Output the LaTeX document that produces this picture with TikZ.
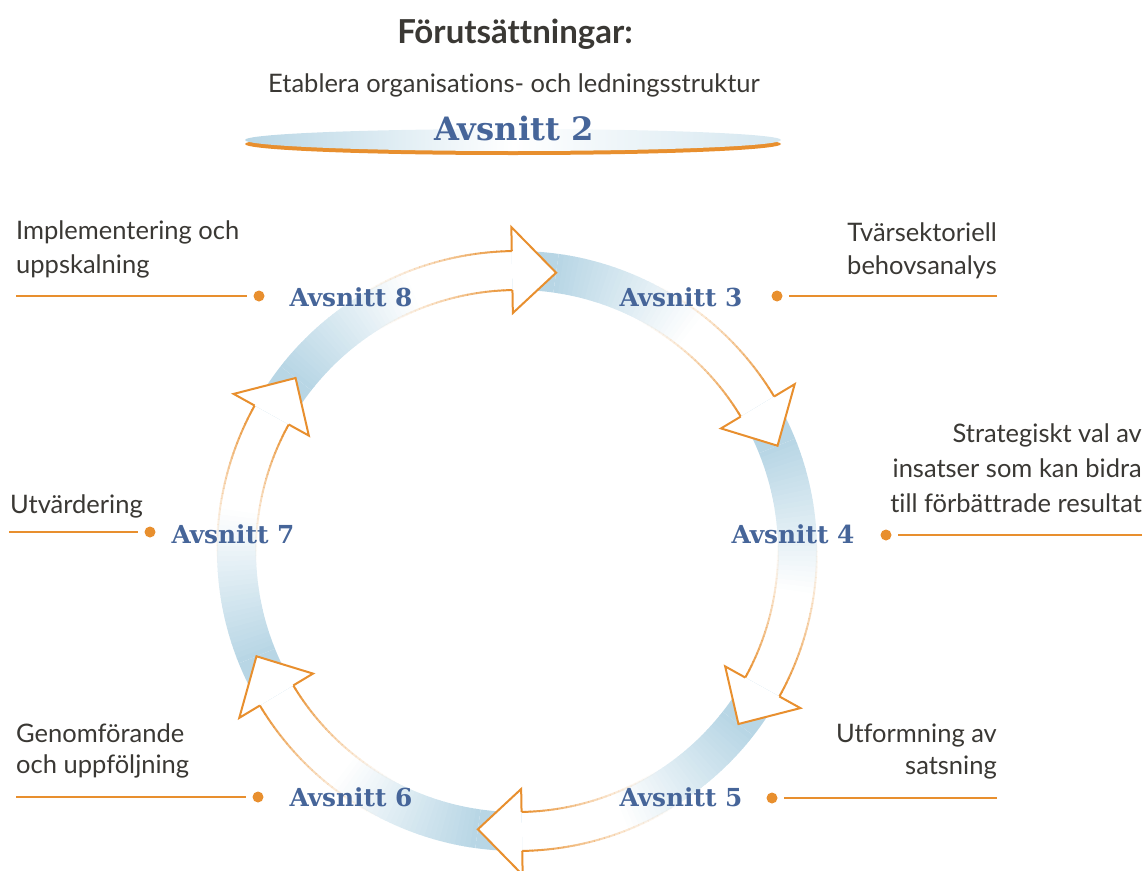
\documentclass[tikz,border=0pt]{standalone}
\usepackage{fontspec}
\setmainfont{Lato}[Ligatures={NoCommon}]
\newfontfamily\avsfont{DejaVu Serif}
\definecolor{ringblue}{RGB}{184,214,229}
\definecolor{arrorange}{RGB}{232,143,46}
\definecolor{avblue}{RGB}{70,101,153}
\definecolor{txtgray}{RGB}{58,56,52}
\begin{document}
\begin{tikzpicture}[x=1pt,y=1pt,yscale=-1,
  lbl/.style={font=\fontsize{25.5}{30}\selectfont, text=txtgray, inner sep=0pt},
  avs/.style={font=\avsfont\bfseries\fontsize{24.8}{28}\selectfont, text=avblue, inner sep=0pt, anchor=base},
  dotm/.style={circle, fill=arrorange, minimum size=11pt, inner sep=0pt},
  lead/.style={draw=arrorange, line width=1.3pt, shorten >=6pt}]
\useasboundingbox (0,0) rectangle (1148,870);

% ---------- top block ----------
\node[font=\bfseries\fontsize{33}{38}\selectfont, text=txtgray, anchor=base, inner sep=0pt] (title) at (515,43) {Förutsättningar:};
\node[font=\fontsize{25.5}{30}\selectfont, text=txtgray, anchor=base, inner sep=0pt] (sub) at (514,92) {Etablera organisations- och ledningsstruktur};
\fill[arrorange] (513,144) ellipse[x radius=268pt, y radius=11pt];
\shade[left color=ringblue, right color=ringblue!60, middle color=white] (513,140) ellipse[x radius=268pt, y radius=11pt];
\node[font=\avsfont\bfseries\fontsize{32.2}{36}\selectfont, text=avblue, anchor=base, inner sep=0pt] (a2) at (514,140) {Avsnitt 2};

% ---------- ring ----------
\begin{scope}[shift={(517,551)}, yscale=-1]
  \foreach \T in {82,22,-38,-98,-158,-218}{
    \pgfmathsetmacro\P{\T+60}
    \pgfmathsetmacro\Q{\T+69}
    \fill[ringblue] (\Q:261pt) arc[start angle=\Q, end angle=\P, radius=261pt] -- (\P:300pt) arc[start angle=\P, end angle=\Q, radius=300pt] -- cycle;
    \foreach \k in {0,...,29}{
      \pgfmathsetmacro\a{\P-\k}
      \pgfmathsetmacro\b{\P-\k-1.15}
      \pgfmathtruncatemacro\pc{100-\k*100/30}
      \fill[ringblue!\pc!white] (\a:261pt) arc[start angle=\a, end angle=\b, radius=261pt] -- (\b:300pt) arc[start angle=\b, end angle=\a, radius=300pt] -- cycle;
    }
  }
  \foreach \T in {82,22,-38,-98,-158,-218}{
    \pgfmathsetmacro\B{\T+9}
    \foreach \k in {0,...,31}{
      \pgfmathsetmacro\a{\T+41-\k}
      \pgfmathsetmacro\b{\T+41-\k-1.1}
      \pgfmathsetmacro\op{((\k+1)/32)^1.6}
      \draw[arrorange, draw opacity=\op, line width=2pt] (\a:300pt) arc[start angle=\a, end angle=\b, radius=300pt] (\a:261pt) arc[start angle=\a, end angle=\b, radius=261pt];
    }
    \filldraw[fill=white, draw=arrorange, line width=2pt, line join=miter] (\B:300pt) -- (\B:324pt) -- (\T:281pt) -- (\B:238pt) -- (\B:261pt);
  }
\end{scope}

% ---------- Avsnitt 8 ----------
\node[lbl, anchor=base west] (imp1) at (16,239) {Implementering och};
\node[lbl, anchor=base west] (imp2) at (16,273) {uppskalning};
\node[dotm] (d8) at (259,296) {};
\coordinate (e8) at (16,296);
\draw[lead] (e8) -- (d8);
\node[avs] (a8) at (351,306) {Avsnitt 8};

% ---------- Avsnitt 3 ----------
\node[lbl, anchor=base east] (tv1) at (997,241) {Tvärsektoriell};
\node[lbl, anchor=base east] (tv2) at (997,274) {behovsanalys};
\node[dotm] (d3) at (777,296) {};
\coordinate (e3) at (997,296);
\draw[lead] (e3) -- (d3);
\node[avs] (a3) at (681,306) {Avsnitt 3};

% ---------- Avsnitt 4 ----------
\node[lbl, anchor=base east] (st1) at (1142,442) {Strategiskt val av};
\node[lbl, anchor=base east] (st2) at (1142,477) {insatser som kan bidra};
\node[lbl, anchor=base east] (st3) at (1142,512) {till förbättrade resultat};
\node[dotm] (d4) at (886,535) {};
\coordinate (e4) at (1142,535);
\draw[lead] (e4) -- (d4);
\node[avs] (a4) at (793,543) {Avsnitt 4};

% ---------- Avsnitt 7 ----------
\node[lbl, anchor=base west] (ut1) at (10,513) {Utvärdering};
\node[dotm] (d7) at (150,532) {};
\coordinate (e7) at (9,532);
\draw[lead] (e7) -- (d7);
\node[avs] (a7) at (233,543) {Avsnitt 7};

% ---------- Avsnitt 6 ----------
\node[lbl, anchor=base west] (ge1) at (16,742) {Genomförande};
\node[lbl, anchor=base west] (ge2) at (16,773) {och uppföljning};
\node[dotm] (d6) at (258,797) {};
\coordinate (e6) at (16,797);
\draw[lead] (e6) -- (d6);
\node[avs] (a6) at (351,806) {Avsnitt 6};

% ---------- Avsnitt 5 ----------
\node[lbl, anchor=base east] (uf1) at (997,742) {Utformning av};
\node[lbl, anchor=base east] (uf2) at (997,774) {satsning};
\node[dotm] (d5) at (772,798) {};
\coordinate (e5) at (997,798);
\draw[lead] (e5) -- (d5);
\node[avs] (a5) at (681,806) {Avsnitt 5};
\end{tikzpicture}
\end{document}
